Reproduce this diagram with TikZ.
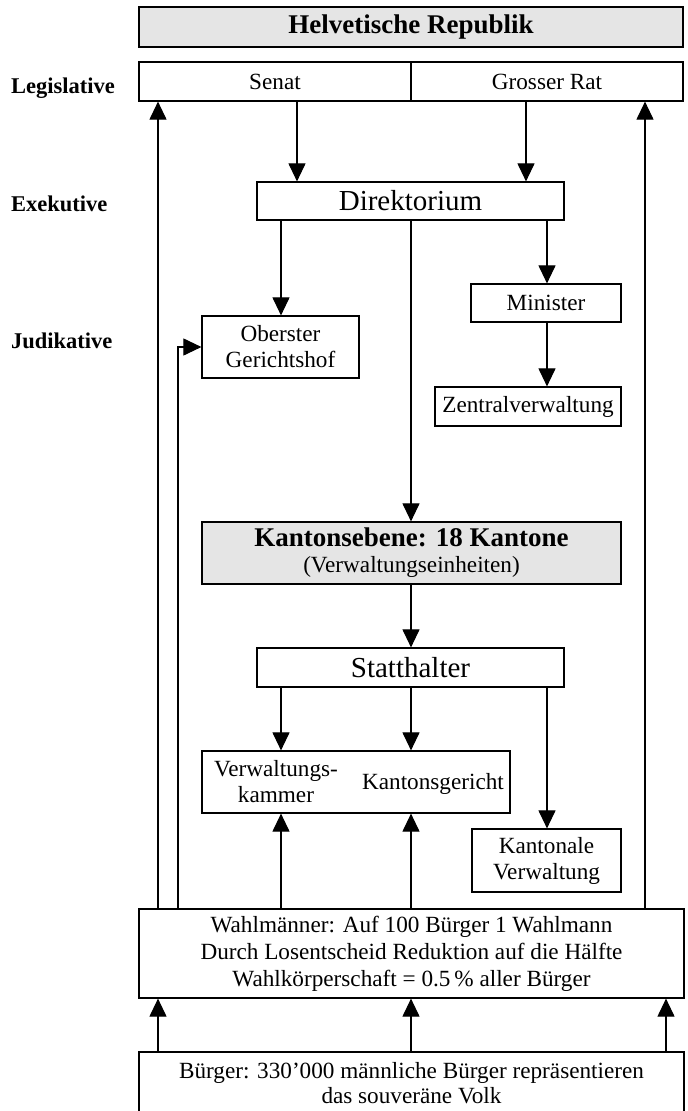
\documentclass[tikz,border=0pt]{standalone}
\usepackage{fontspec}
\setmainfont{Liberation Serif}
\usetikzlibrary{arrows.meta}
\newcommand{\bodysize}{\fontsize{23.2}{26}\selectfont}
\newcommand{\bigsize}{\fontsize{29}{32}\selectfont}
\newcommand{\headsize}{\fontsize{27}{30}\selectfont\bfseries}
\tikzset{
  % Box styles
  orgbox/.style={rectangle, draw, line width=1.2pt, inner sep=0pt, align=center, font=\bodysize},
  greybox/.style={orgbox, fill=black!10},
  innertext/.style={inner sep=0pt, align=center, font=\bodysize},
  % Label style
  levellabel/.style={anchor=base west, inner sep=0pt, font=\fontsize{22.5}{26}\selectfont\bfseries},
  % Arrow style
  arrow/.style={-{Triangle[length=18pt,width=17pt]}, line width=1.1pt}
}

\begin{document}
\begin{tikzpicture}[x=1pt, y=-1pt]
  \useasboundingbox (0,0) rectangle (688,1111);
  \clip (0,0) rectangle (688,1111);

  % Columns of the connectors
  \coordinate (c1) at (158,0);
  \coordinate (c2) at (178,0);
  \coordinate (c3) at (281,0);
  \coordinate (c4) at (297,0);
  \coordinate (c5) at (411,0);
  \coordinate (c6) at (526,0);
  \coordinate (c7) at (547,0);
  \coordinate (c8) at (645,0);
  \coordinate (c9) at (666,0);

  % Level labels
  \node[levellabel] (legis) at (11,93) {Legislative};
  \node[levellabel] (exek) at (11,211) {Exekutive};
  \node[levellabel] (judi) at (11,348) {Judikative};

  % Central state
  \node[greybox, minimum width=544pt, minimum height=40pt, font=\headsize] (republik) at (411,27) {Helvetische Republik};
  \node[orgbox, minimum width=272pt, minimum height=39pt] (senat) at (275,81.5) {Senat};
  \node[orgbox, minimum width=272pt, minimum height=39pt] (rat) at (547,81.5) {Grosser Rat};
  \node[orgbox, minimum width=307pt, minimum height=38pt, font=\bigsize] (dir) at (410.5,201) {Direktorium};
  \node[orgbox, minimum width=150pt, minimum height=38pt] (minister) at (546,303) {Minister};
  \node[orgbox, minimum width=157pt, minimum height=62pt] (gericht) at (280.5,347) {Oberster\\Gerichtshof};
  \node[orgbox, minimum width=186pt, minimum height=39pt] (zentral) at (528,406.5) {Zentralverwaltung};

  % Cantons
  \node[greybox, minimum width=419pt, minimum height=62pt] (kanton) at (411.5,553) {{\headsize Kantonsebene: 18 Kantone}\\(Verwaltungseinheiten)};
  \node[orgbox, minimum width=307pt, minimum height=39pt, font=\bigsize] (statt) at (410.5,667.5) {Statthalter};
  \node[orgbox, minimum width=308pt, minimum height=62pt] (kammer) at (356,782) {};
  \node[innertext] (kammertext) at (276,782) {Verwaltungs-\\kammer};
  \node[innertext] (kgtext) at (433,784) {Kantonsgericht};
  \node[orgbox, minimum width=149pt, minimum height=63pt] (kantverw) at (546.5,860.5) {Kantonale\\Verwaltung};

  % Electors and citizens
  \node[orgbox, minimum width=545pt, minimum height=89pt, font=\fontsize{23.2}{27}\selectfont] (wahl) at (411.5,953.5) {Wahlmänner: Auf 100 Bürger 1 Wahlmann\\Durch Losentscheid Reduktion auf die Hälfte\\Wahlkörperschaft = 0.5\,\% aller Bürger};
  \node[orgbox, minimum width=545pt, minimum height=62pt, font=\fontsize{23.2}{25}\selectfont] (buerger) at (411.5,1083) {Bürger: 330’000 männliche Bürger repräsentieren\\das souveräne Volk};

  % Downward connectors
  \draw[arrow] (senat.south -| c4) -- (dir.north -| c4);
  \draw[arrow] (rat.south -| c6) -- (dir.north -| c6);
  \draw[arrow] (dir.south -| c3) -- (gericht.north -| c3);
  \draw[arrow] (dir.south -| c7) -- (minister.north -| c7);
  \draw[arrow] (dir.south -| c5) -- (kanton.north -| c5);
  \draw[arrow] (minister.south -| c7) -- (zentral.north -| c7);
  \draw[arrow] (kanton.south -| c5) -- (statt.north -| c5);
  \draw[arrow] (statt.south -| c3) -- (kammer.north -| c3);
  \draw[arrow] (statt.south -| c5) -- (kammer.north -| c5);
  \draw[arrow] (statt.south -| c7) -- (kantverw.north -| c7);

  % Upward connectors
  \draw[arrow] (wahl.north -| c1) -- (senat.south -| c1);
  \draw[arrow] (wahl.north -| c8) -- (rat.south -| c8);
  \draw[arrow] (wahl.north -| c2) |- (gericht.west);
  \draw[arrow] (wahl.north -| c3) -- (kammer.south -| c3);
  \draw[arrow] (wahl.north -| c5) -- (kammer.south -| c5);
  \draw[arrow] (buerger.north -| c1) -- (wahl.south -| c1);
  \draw[arrow] (buerger.north -| c5) -- (wahl.south -| c5);
  \draw[arrow] (buerger.north -| c9) -- (wahl.south -| c9);
\end{tikzpicture}
\end{document}
